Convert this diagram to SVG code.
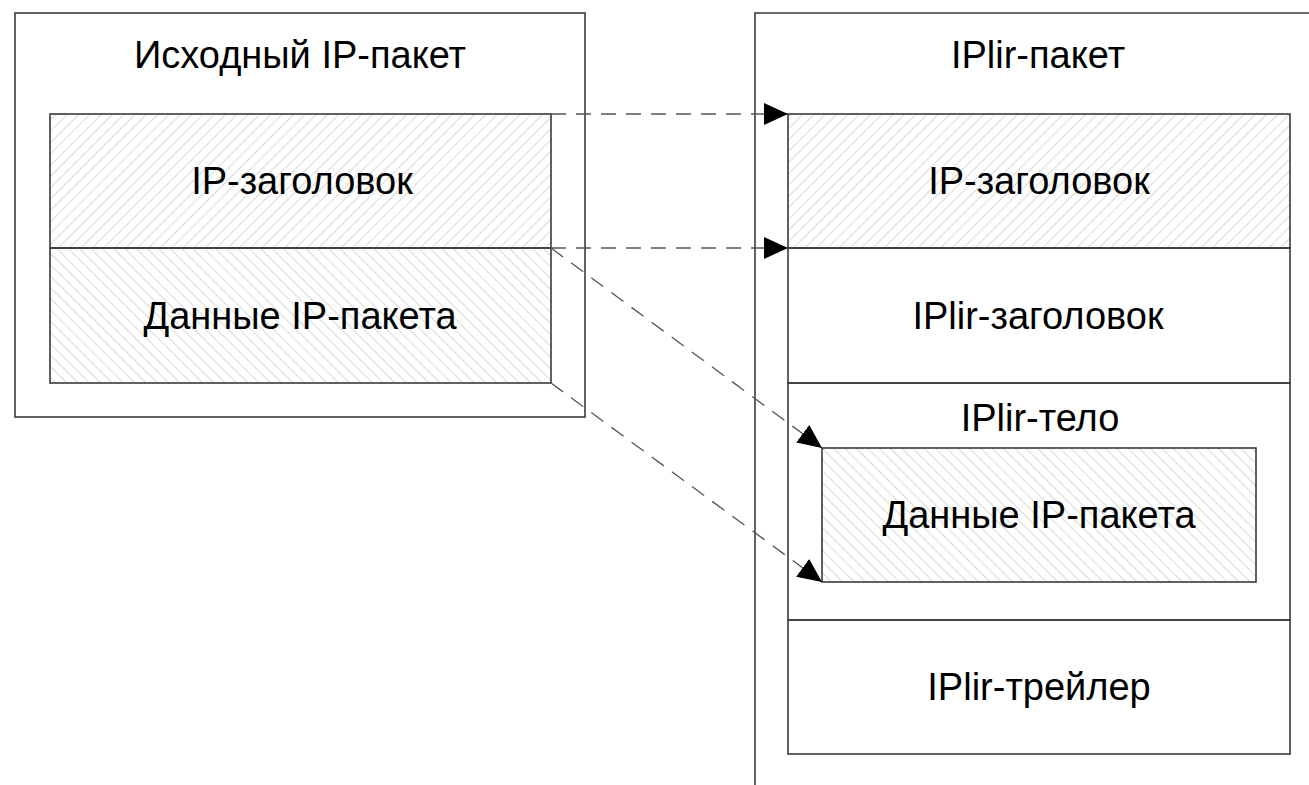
<svg xmlns="http://www.w3.org/2000/svg" width="1309" height="785" viewBox="0 0 1309 785">
<style>
.box{fill:none;stroke:#3a3a3a;stroke-width:1.6}
.lbl{font-family:"Liberation Sans",Arial,sans-serif;font-size:38px;fill:#000;text-anchor:middle}
.conn{fill:none;stroke:#555;stroke-width:1.3;stroke-dasharray:15 10;marker-end:url(#arr)}
</style>
<defs>
<pattern id="hatchF" patternUnits="userSpaceOnUse" width="8" height="8" patternTransform="rotate(45)">
<line x1="0" y1="0" x2="0" y2="8" stroke="#c0c0c0" stroke-width="1.2"/>
</pattern>
<pattern id="hatchB" patternUnits="userSpaceOnUse" width="8" height="8" patternTransform="rotate(-45)">
<line x1="0" y1="0" x2="0" y2="8" stroke="#c0c0c0" stroke-width="1.2"/>
</pattern>
<marker id="arr" markerUnits="userSpaceOnUse" markerWidth="26" markerHeight="24" refX="24" refY="11" orient="auto">
<path d="M0,0 L24,11 L0,22 z" fill="#000"/>
</marker>
</defs>
<rect width="1309" height="785" fill="#fff"/>

<g id="source-packet">
<rect class="box" x="15" y="13" width="570" height="404"/>
<text class="lbl" x="300" y="68">Исходный IP-пакет</text>
</g>
<g id="src-ip-header">
<rect x="50" y="114" width="501" height="134" fill="url(#hatchF)"/>
<rect class="box" x="50" y="114" width="501" height="134"/>
<text class="lbl" x="302" y="194">IP-заголовок</text>
</g>
<g id="src-ip-data">
<rect x="50" y="248" width="501" height="135" fill="url(#hatchB)"/>
<rect class="box" x="50" y="248" width="501" height="135"/>
<text class="lbl" x="300" y="329">Данные IP-пакета</text>
</g>

<g id="iplir-packet">
<path class="box" d="M755,785 L755,13 L1309,13"/>
<text class="lbl" x="1038" y="68">IPlir-пакет</text>
</g>
<g id="dst-ip-header">
<rect x="788" y="114" width="502" height="134" fill="url(#hatchF)"/>
<rect class="box" x="788" y="114" width="502" height="134"/>
<text class="lbl" x="1039" y="194">IP-заголовок</text>
</g>
<g id="iplir-header">
<rect class="box" x="788" y="248" width="502" height="135"/>
<text class="lbl" x="1038" y="329">IPlir-заголовок</text>
</g>
<g id="iplir-body">
<rect class="box" x="788" y="383" width="502" height="237"/>
<text class="lbl" x="1040" y="431">IPlir-тело</text>
</g>
<g id="dst-ip-data">
<rect x="822" y="448" width="434" height="134" fill="url(#hatchB)"/>
<rect class="box" x="822" y="448" width="434" height="134"/>
<text class="lbl" x="1039" y="528">Данные IP-пакета</text>
</g>
<g id="iplir-trailer">
<rect class="box" x="788" y="620" width="502" height="134"/>
<text class="lbl" x="1039" y="700">IPlir-трейлер</text>
</g>

<g id="connectors">
<line class="conn" x1="551" y1="114" x2="788" y2="114"/>
<line class="conn" x1="551" y1="248" x2="788" y2="248"/>
<line class="conn" x1="551" y1="248" x2="822" y2="448"/>
<line class="conn" x1="551" y1="383" x2="822" y2="582"/>
</g>
</svg>
